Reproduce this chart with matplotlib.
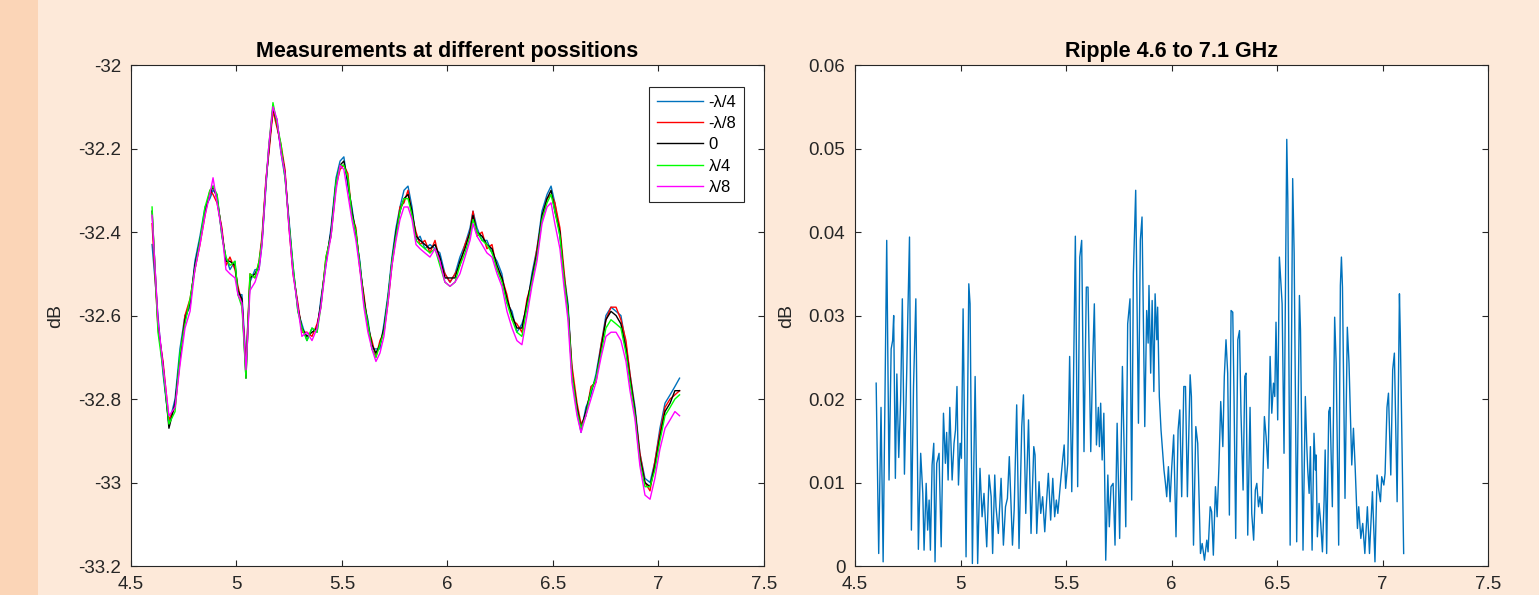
import matplotlib
matplotlib.use("Agg")
import matplotlib.pyplot as plt
from matplotlib.patches import Rectangle
from matplotlib.ticker import FuncFormatter

plt.rcParams['font.family'] = ['Liberation Sans', 'DejaVu Sans']

# ---- left panel: level at five positions (GHz, dB) ----
freq = [4.600, 4.628, 4.652, 4.680, 4.709, 4.732, 4.756, 4.780, 4.803, 4.827,
        4.851, 4.874, 4.889, 4.908, 4.931, 4.950, 4.969, 4.993, 5.007, 5.026,
        5.045, 5.064, 5.088, 5.107, 5.121, 5.140, 5.154, 5.173, 5.192, 5.211,
        5.230, 5.249, 5.268, 5.291, 5.310, 5.334, 5.358, 5.382, 5.400, 5.424,
        5.448, 5.472, 5.491, 5.509, 5.528, 5.547, 5.566, 5.585, 5.604, 5.623,
        5.642, 5.661, 5.680, 5.699, 5.718, 5.737, 5.756, 5.775, 5.794, 5.813,
        5.832, 5.851, 5.870, 5.893, 5.917, 5.941, 5.964, 5.988, 6.012, 6.036,
        6.059, 6.083, 6.107, 6.121, 6.140, 6.164, 6.187, 6.211, 6.235, 6.258,
        6.282, 6.306, 6.329, 6.353, 6.377, 6.400, 6.424, 6.448, 6.472, 6.491,
        6.509, 6.533, 6.552, 6.571, 6.590, 6.614, 6.633, 6.656, 6.680, 6.704,
        6.728, 6.751, 6.775, 6.799, 6.822, 6.846, 6.865, 6.889, 6.912, 6.936,
        6.960, 6.983, 7.007, 7.031, 7.055, 7.078, 7.100]

neg_l4 = [-32.43, -32.60, -32.74, -32.86, -32.80, -32.68, -32.60, -32.58, -32.47, -32.41,
          -32.34, -32.32, -32.30, -32.31, -32.41, -32.46, -32.49, -32.47, -32.55, -32.55,
          -32.71, -32.52, -32.49, -32.49, -32.43, -32.29, -32.19, -32.11, -32.13, -32.21,
          -32.27, -32.37, -32.48, -32.59, -32.62, -32.66, -32.63, -32.64, -32.56, -32.48,
          -32.39, -32.27, -32.23, -32.22, -32.29, -32.34, -32.41, -32.47, -32.57, -32.61,
          -32.68, -32.68, -32.68, -32.62, -32.55, -32.46, -32.39, -32.34, -32.30, -32.29,
          -32.34, -32.42, -32.41, -32.44, -32.43, -32.44, -32.45, -32.50, -32.52, -32.50,
          -32.46, -32.43, -32.39, -32.35, -32.39, -32.42, -32.42, -32.45, -32.47, -32.50,
          -32.57, -32.59, -32.64, -32.62, -32.58, -32.50, -32.44, -32.35, -32.31, -32.29,
          -32.33, -32.41, -32.50, -32.57, -32.73, -32.83, -32.88, -32.82, -32.79, -32.74,
          -32.67, -32.60, -32.58, -32.59, -32.60, -32.67, -32.74, -32.82, -32.93, -32.99,
          -33.00, -32.95, -32.87, -32.81, -32.79, -32.77, -32.75]

neg_l8 = [-32.38, -32.63, -32.71, -32.85, -32.82, -32.71, -32.60, -32.56, -32.49, -32.43,
          -32.36, -32.30, -32.31, -32.33, -32.39, -32.48, -32.46, -32.49, -32.53, -32.57,
          -32.72, -32.50, -32.51, -32.47, -32.41, -32.27, -32.21, -32.11, -32.15, -32.19,
          -32.25, -32.39, -32.50, -32.57, -32.64, -32.64, -32.65, -32.62, -32.58, -32.46,
          -32.41, -32.29, -32.25, -32.24, -32.26, -32.36, -32.39, -32.49, -32.55, -32.63,
          -32.66, -32.70, -32.66, -32.64, -32.57, -32.48, -32.41, -32.34, -32.33, -32.30,
          -32.36, -32.40, -32.43, -32.42, -32.45, -32.42, -32.47, -32.50, -32.52, -32.50,
          -32.48, -32.43, -32.40, -32.35, -32.41, -32.40, -32.44, -32.43, -32.49, -32.51,
          -32.55, -32.61, -32.62, -32.64, -32.56, -32.52, -32.44, -32.37, -32.32, -32.31,
          -32.33, -32.39, -32.49, -32.59, -32.72, -32.81, -32.86, -32.84, -32.77, -32.76,
          -32.67, -32.61, -32.58, -32.58, -32.61, -32.66, -32.74, -32.83, -32.93, -33.00,
          -33.02, -32.95, -32.88, -32.82, -32.80, -32.79, -32.78]

zero = [-32.35, -32.62, -32.72, -32.87, -32.81, -32.70, -32.61, -32.57, -32.48, -32.42,
        -32.35, -32.31, -32.29, -32.32, -32.40, -32.47, -32.47, -32.48, -32.54, -32.56,
        -32.75, -32.51, -32.50, -32.48, -32.42, -32.28, -32.20, -32.10, -32.14, -32.20,
        -32.26, -32.38, -32.49, -32.58, -32.63, -32.65, -32.64, -32.63, -32.57, -32.47,
        -32.40, -32.28, -32.24, -32.23, -32.28, -32.35, -32.40, -32.48, -32.56, -32.62,
        -32.67, -32.69, -32.67, -32.63, -32.56, -32.47, -32.40, -32.35, -32.32, -32.31,
        -32.35, -32.41, -32.42, -32.43, -32.44, -32.43, -32.46, -32.51, -32.51, -32.51,
        -32.47, -32.44, -32.40, -32.36, -32.40, -32.41, -32.43, -32.44, -32.48, -32.51,
        -32.56, -32.60, -32.63, -32.63, -32.57, -32.51, -32.45, -32.36, -32.32, -32.30,
        -32.35, -32.40, -32.51, -32.58, -32.74, -32.82, -32.87, -32.83, -32.78, -32.75,
        -32.68, -32.61, -32.59, -32.60, -32.62, -32.68, -32.75, -32.83, -32.94, -33.00,
        -33.01, -32.96, -32.89, -32.83, -32.81, -32.78, -32.78]

pos_l4 = [-32.34, -32.64, -32.73, -32.86, -32.83, -32.69, -32.62, -32.56, -32.49, -32.42,
          -32.34, -32.30, -32.29, -32.31, -32.41, -32.46, -32.48, -32.47, -32.55, -32.58,
          -32.75, -32.50, -32.51, -32.47, -32.42, -32.28, -32.19, -32.09, -32.14, -32.19,
          -32.27, -32.38, -32.48, -32.59, -32.63, -32.66, -32.63, -32.64, -32.58, -32.46,
          -32.41, -32.28, -32.24, -32.24, -32.27, -32.36, -32.40, -32.48, -32.57, -32.62,
          -32.68, -32.70, -32.67, -32.64, -32.56, -32.47, -32.41, -32.35, -32.32, -32.32,
          -32.36, -32.42, -32.43, -32.44, -32.45, -32.44, -32.48, -32.52, -32.53, -32.52,
          -32.48, -32.45, -32.41, -32.37, -32.40, -32.42, -32.43, -32.45, -32.49, -32.52,
          -32.57, -32.61, -32.64, -32.65, -32.58, -32.52, -32.46, -32.37, -32.33, -32.31,
          -32.35, -32.41, -32.51, -32.59, -32.74, -32.83, -32.87, -32.84, -32.78, -32.75,
          -32.69, -32.63, -32.61, -32.62, -32.63, -32.69, -32.76, -32.84, -32.95, -33.01,
          -33.01, -32.97, -32.90, -32.84, -32.82, -32.80, -32.79]

pos_l8 = [-32.36, -32.61, -32.72, -32.84, -32.82, -32.72, -32.63, -32.59, -32.49, -32.43,
          -32.36, -32.31, -32.27, -32.33, -32.40, -32.49, -32.50, -32.51, -32.55, -32.57,
          -32.73, -32.54, -32.52, -32.49, -32.43, -32.28, -32.19, -32.10, -32.13, -32.21,
          -32.26, -32.39, -32.50, -32.58, -32.65, -32.64, -32.66, -32.63, -32.58, -32.48,
          -32.41, -32.30, -32.24, -32.25, -32.31, -32.37, -32.42, -32.49, -32.58, -32.64,
          -32.68, -32.71, -32.69, -32.65, -32.57, -32.48, -32.42, -32.37, -32.34, -32.34,
          -32.37, -32.43, -32.44, -32.45, -32.46, -32.44, -32.47, -32.52, -32.53, -32.52,
          -32.50, -32.46, -32.42, -32.38, -32.41, -32.43, -32.45, -32.46, -32.50, -32.53,
          -32.59, -32.63, -32.66, -32.67, -32.60, -32.53, -32.47, -32.38, -32.34, -32.33,
          -32.38, -32.44, -32.53, -32.61, -32.76, -32.84, -32.88, -32.84, -32.80, -32.76,
          -32.70, -32.65, -32.64, -32.64, -32.66, -32.71, -32.78, -32.85, -32.96, -33.03,
          -33.04, -32.99, -32.92, -32.87, -32.85, -32.83, -32.84]

series_labels = ['-\u03bb/4', '-\u03bb/8', '0', '\u03bb/4', '\u03bb/8']
series_colors = ['#0072BD', '#FF0000', '#000000', '#00FF00', '#FF00FF']

# ---- right panel: ripple (GHz, dB) ----
ripple_freq = [
    4.600, 4.612, 4.623, 4.633, 4.641, 4.650, 4.661, 4.671, 4.678, 4.683,
    4.691, 4.698, 4.707, 4.716, 4.724, 4.734, 4.745, 4.750, 4.758, 4.767,
    4.777, 4.788, 4.800, 4.811, 4.821, 4.827, 4.837, 4.844, 4.851, 4.857,
    4.865, 4.873, 4.879, 4.887, 4.898, 4.908, 4.919, 4.928, 4.934, 4.941,
    4.949, 4.960, 4.969, 4.976, 4.983, 4.990, 4.998, 5.004, 5.012, 5.026,
    5.039, 5.045, 5.056, 5.069, 5.081, 5.092, 5.102, 5.111, 5.124, 5.135,
    5.145, 5.152, 5.162, 5.168, 5.179, 5.192, 5.203, 5.213, 5.222, 5.231,
    5.246, 5.254, 5.266, 5.277, 5.290, 5.298, 5.309, 5.322, 5.334, 5.347,
    5.353, 5.361, 5.372, 5.380, 5.389, 5.399, 5.407, 5.416, 5.427, 5.437,
    5.446, 5.454, 5.461, 5.472, 5.483, 5.491, 5.498, 5.508, 5.517, 5.527,
    5.533, 5.544, 5.555, 5.565, 5.574, 5.585, 5.596, 5.604, 5.617, 5.626,
    5.634, 5.644, 5.653, 5.658, 5.664, 5.671, 5.679, 5.688, 5.698, 5.705,
    5.713, 5.723, 5.732, 5.742, 5.754, 5.767, 5.783, 5.792, 5.803, 5.811,
    5.819, 5.830, 5.843, 5.852, 5.860,
    5.873, 5.882, 5.889, 5.893, 5.901, 5.908, 5.916, 5.922, 5.930, 5.934,
    5.942, 5.950, 5.957, 5.964, 5.971, 5.977, 5.985, 5.993, 6.001, 6.010,
    6.021, 6.031, 6.039, 6.048, 6.058, 6.066, 6.075, 6.088, 6.094, 6.104,
    6.115, 6.124, 6.137, 6.145, 6.156, 6.167, 6.173, 6.183, 6.190, 6.198,
    6.208, 6.216, 6.225, 6.233, 6.243, 6.250, 6.258, 6.266, 6.274, 6.282,
    6.290, 6.296, 6.304, 6.314, 6.322, 6.329, 6.339, 6.347, 6.353, 6.361,
    6.372, 6.380, 6.389, 6.397, 6.404, 6.412, 6.419, 6.429, 6.440, 6.448,
    6.457, 6.467, 6.475, 6.483, 6.489, 6.495, 6.503, 6.511,
    6.524, 6.533, 6.546, 6.551, 6.562, 6.574, 6.581, 6.593, 6.606, 6.611,
    6.623, 6.634, 6.641, 6.645, 6.652, 6.658, 6.666, 6.675, 6.682, 6.685,
    6.691, 6.699, 6.707, 6.715, 6.723, 6.728, 6.735, 6.745, 6.751, 6.762,
    6.773, 6.780, 6.792, 6.800, 6.805, 6.810, 6.822, 6.833, 6.841, 6.854,
    6.862, 6.870, 6.881, 6.887, 6.897, 6.906, 6.916, 6.928, 6.938, 6.952,
    6.964, 6.974, 6.982, 6.990, 6.996, 7.006, 7.012, 7.021, 7.028, 7.039,
    7.048, 7.056, 7.069, 7.080, 7.084, 7.100]

ripple = [
    0.0219, 0.0015, 0.0190, 0.0005, 0.0190, 0.0390, 0.0103, 0.0260, 0.0270, 0.0300,
    0.0105, 0.0230, 0.0130, 0.0200, 0.0320, 0.0110, 0.0235, 0.0300, 0.0394, 0.0043,
    0.0215, 0.0320, 0.0020, 0.0135, 0.0087, 0.0019, 0.0099, 0.0043, 0.0079, 0.0019,
    0.0121, 0.0147, 0.0005, 0.0123, 0.0135, 0.0023, 0.0183, 0.0123, 0.0160, 0.0103,
    0.0190, 0.0103, 0.0147, 0.0163, 0.0215, 0.0097, 0.0147, 0.0129, 0.0308, 0.0011,
    0.0338, 0.0314, 0.0003, 0.0227, 0.0003, 0.0117, 0.0059, 0.0087, 0.0023, 0.0109,
    0.0083, 0.0015, 0.0109, 0.0071, 0.0039, 0.0105, 0.0025, 0.0071, 0.0081, 0.0131,
    0.0025, 0.0067, 0.0193, 0.0021, 0.0167, 0.0205, 0.0063, 0.0175, 0.0039, 0.0143,
    0.0133, 0.0039, 0.0101, 0.0063, 0.0083, 0.0041, 0.0075, 0.0111, 0.0055, 0.0105,
    0.0059, 0.0079, 0.0063, 0.0095, 0.0125, 0.0145, 0.0093, 0.0123, 0.0251, 0.0089,
    0.0179, 0.0395, 0.0095, 0.0370, 0.0390, 0.0137, 0.0334, 0.0334, 0.0137, 0.0243,
    0.0314, 0.0145, 0.0190, 0.0143, 0.0195, 0.0127, 0.0183, 0.0007, 0.0109, 0.0047,
    0.0095, 0.0099, 0.0025, 0.0171, 0.0033, 0.0239, 0.0047, 0.0290, 0.0320, 0.0079,
    0.0350, 0.0450, 0.0171, 0.0390, 0.0418,
    0.0167, 0.0306, 0.0267, 0.0336, 0.0231, 0.0318, 0.0209, 0.0326, 0.0271, 0.0310,
    0.0203, 0.0163, 0.0139, 0.0115, 0.0099, 0.0083, 0.0119, 0.0077, 0.0119, 0.0157,
    0.0035, 0.0163, 0.0187, 0.0083, 0.0215, 0.0215, 0.0083, 0.0229, 0.0203, 0.0025,
    0.0167, 0.0147, 0.0015, 0.0027, 0.0007, 0.0031, 0.0017, 0.0071, 0.0065, 0.0013,
    0.0095, 0.0059, 0.0123, 0.0197, 0.0143, 0.0227, 0.0271, 0.0231, 0.0061, 0.0306,
    0.0304, 0.0203, 0.0033, 0.0271, 0.0282, 0.0183, 0.0091, 0.0227, 0.0231, 0.0037,
    0.0190, 0.0063, 0.0031, 0.0091, 0.0099, 0.0071, 0.0083, 0.0063, 0.0179, 0.0155,
    0.0117, 0.0251, 0.0183, 0.0219, 0.0203, 0.0292, 0.0175, 0.0370,
    0.0314, 0.0135, 0.0511, 0.0438, 0.0025, 0.0464, 0.0374, 0.0029, 0.0324, 0.0283,
    0.0019, 0.0203, 0.0143, 0.0117, 0.0087, 0.0143, 0.0019, 0.0159, 0.0115, 0.0133,
    0.0035, 0.0075, 0.0051, 0.0017, 0.0079, 0.0139, 0.0015, 0.0185, 0.0190, 0.0071,
    0.0298, 0.0243, 0.0025, 0.0336, 0.0370, 0.0334, 0.0081, 0.0286, 0.0243, 0.0121,
    0.0165, 0.0119, 0.0045, 0.0071, 0.0033, 0.0051, 0.0015, 0.0071, 0.0015, 0.0089,
    0.0005, 0.0109, 0.0091, 0.0077, 0.0107, 0.0097, 0.0111, 0.0190, 0.0207, 0.0109,
    0.0235, 0.0255, 0.0077, 0.0326, 0.0279, 0.0015]

left_yticks = [-33.2, -33.0, -32.8, -32.6, -32.4, -32.2, -32.0]
right_yticks = [0, 0.01, 0.02, 0.03, 0.04, 0.05, 0.06]
xticks = [4.5, 5, 5.5, 6, 6.5, 7, 7.5]

TXT = '#262626'
gfmt = FuncFormatter(lambda v, p: '{:g}'.format(round(v, 6)))


def style(ax):
    ax.set_xlim(4.5, 7.5)
    ax.set_xticks(xticks)
    ax.xaxis.set_major_formatter(gfmt)
    ax.yaxis.set_major_formatter(gfmt)
    ax.tick_params(direction='in', top=True, right=True, length=4, width=0.8,
                   colors=TXT, labelsize=13.5, pad=7)
    for s in ax.spines.values():
        s.set_color(TXT)
        s.set_linewidth(0.8)
    ax.set_facecolor('white')


fig = plt.figure(figsize=(15.39, 5.95), dpi=100)
fig.patch.set_facecolor('#FDE9D9')
fig.patches.append(Rectangle((0, 0), 38 / 1539, 1, transform=fig.transFigure,
                             facecolor='#FBD5B7', edgecolor='none', zorder=0))

ax1 = fig.add_axes([0.0851, 0.0487, 0.4113, 0.842])
for vals, lab, col in zip([neg_l4, neg_l8, zero, pos_l4, pos_l8], series_labels, series_colors):
    ax1.plot(freq, vals, color=col, lw=1.0, label=lab)
ax1.set_ylim(-33.2, -32)
ax1.set_yticks(left_yticks)
style(ax1)
ax1.set_ylabel('dB', fontsize=14, color=TXT, labelpad=10)
ax1.set_title('Measurements at different possitions', fontsize=15.5, fontweight='bold', pad=6)
leg = ax1.legend(loc='upper right', bbox_to_anchor=(0.968, 0.956), borderaxespad=0,
                 fontsize=12, handlelength=2.8, handletextpad=0.3, labelspacing=0.38,
                 borderpad=0.45, fancybox=False, framealpha=1)
leg.get_frame().set_edgecolor(TXT)
leg.get_frame().set_linewidth(0.8)

ax2 = fig.add_axes([0.5556, 0.0487, 0.4113, 0.842])
ax2.plot(ripple_freq, ripple, color='#0072BD', lw=1.0)
ax2.set_ylim(0, 0.06)
ax2.set_yticks(right_yticks)
style(ax2)
ax2.set_ylabel('dB', fontsize=14, color=TXT, labelpad=10)
ax2.set_title('Ripple 4.6 to 7.1 GHz', fontsize=15.5, fontweight='bold', pad=6)

fig.savefig('out.png', dpi=100, facecolor=fig.get_facecolor())
